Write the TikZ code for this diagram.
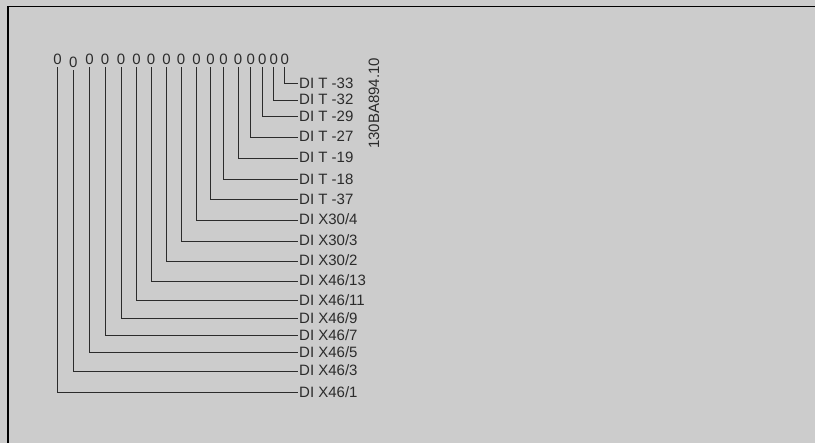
\documentclass[tikz,border=0pt]{standalone}
\usepackage{fontspec}
\setmainfont{Liberation Sans}
\usepackage{tikz}
\usetikzlibrary{positioning,calc}
\definecolor{panel}{HTML}{CCCCCC}
\definecolor{ink}{HTML}{2B2B2B}

\begin{document}
\begin{tikzpicture}[
  x=1pt, y=-1pt,
  every node/.style={text=ink},
  pin/.style={font=\fontsize{15}{15}\selectfont, inner sep=0pt, outer sep=2.5pt,
              text height=10pt, text depth=0pt},          % the zeros on top
  pinlabel/.style={anchor=west, inner sep=1pt, font=\fontsize{15}{15}\selectfont,
              text height=10pt, text depth=0pt},          % terminal names
  wire/.style={draw=ink, line width=0.9pt}
]
% page and frame
\fill[panel] (0,0) rectangle (815,443);
\useasboundingbox (0,0) rectangle (815,443);
\draw[line width=1.5pt, black] (8,443) -- (8,6.5) -- (815,6.5);

% the zeros
\node[pin] (z1)  at (57.5,60) {0};
\node[pin] (z2)  at (73.3,63) {0};
\node[pin] (z3)  at (89.5,60) {0};
\node[pin] (z4)  at (105,60)  {0};
\node[pin] (z5)  at (121,60)  {0};
\node[pin] (z6)  at (136.5,60) {0};
\node[pin] (z7)  at (151,60)  {0};
\node[pin] (z8)  at (166.5,60) {0};
\node[pin] (z9)  at (181,60)  {0};
\node[pin] (z10) at (196.5,60) {0};
\node[pin] (z11) at (210.5,60) {0};
\node[pin] (z12) at (223.5,60) {0};
\node[pin] (z13) at (238,60)  {0};
\node[pin] (z14) at (250.7,60) {0};
\node[pin] (z15) at (262.3,60) {0};
\node[pin] (z16) at (273.7,60) {0};
\node[pin] (z17) at (284.7,60) {0};

% terminal names
\node[pinlabel] (t33)  at (298,83.3)  {DI T -33};
\node[pinlabel] (t32)  at (298,100)   {DI T -32};
\node[pinlabel] (t29)  at (298,116.7) {DI T -29};
\node[pinlabel] (t27)  at (298,137)   {DI T -27};
\node[pinlabel] (t19)  at (298,158)   {DI T -19};
\node[pinlabel] (t18)  at (298,179.3) {DI T -18};
\node[pinlabel] (t37)  at (298,199.3) {DI T -37};
\node[pinlabel] (x304) at (298,220)   {DI X30/4};
\node[pinlabel] (x303) at (298,241)   {DI X30/3};
\node[pinlabel] (x302) at (298,261)   {DI X30/2};
\node[pinlabel] (x4613) at (298,281)  {DI X46/13};
\node[pinlabel] (x4611) at (298,300.7) {DI X46/11};
\node[pinlabel] (x469) at (298,318.3) {DI X46/9};
\node[pinlabel] (x467) at (298,335.7) {DI X46/7};
\node[pinlabel] (x465) at (298,352.3) {DI X46/5};
\node[pinlabel] (x463) at (298,371)   {DI X46/3};
\node[pinlabel] (x461) at (298,392.3) {DI X46/1};

% drawing number
\node[font=\fontsize{15}{15}\selectfont, rotate=90, inner sep=0pt] (docid) at (374,103.5) {130BA894.10};

% wires
\draw[wire] (z1.south)  |- (x461.west);
\draw[wire] (z2.south)  |- (x463.west);
\draw[wire] (z3.south)  |- (x465.west);
\draw[wire] (z4.south)  |- (x467.west);
\draw[wire] (z5.south)  |- (x469.west);
\draw[wire] (z6.south)  |- (x4611.west);
\draw[wire] (z7.south)  |- (x4613.west);
\draw[wire] (z8.south)  |- (x302.west);
\draw[wire] (z9.south)  |- (x303.west);
\draw[wire] (z10.south) |- (x304.west);
\draw[wire] (z11.south) |- (t37.west);
\draw[wire] (z12.south) |- (t18.west);
\draw[wire] (z13.south) |- (t19.west);
\draw[wire] (z14.south) |- (t27.west);
\draw[wire] (z15.south) |- (t29.west);
\draw[wire] (z16.south) |- (t32.west);
\draw[wire] (z17.south) |- (t33.west);
\end{tikzpicture}
\end{document}
